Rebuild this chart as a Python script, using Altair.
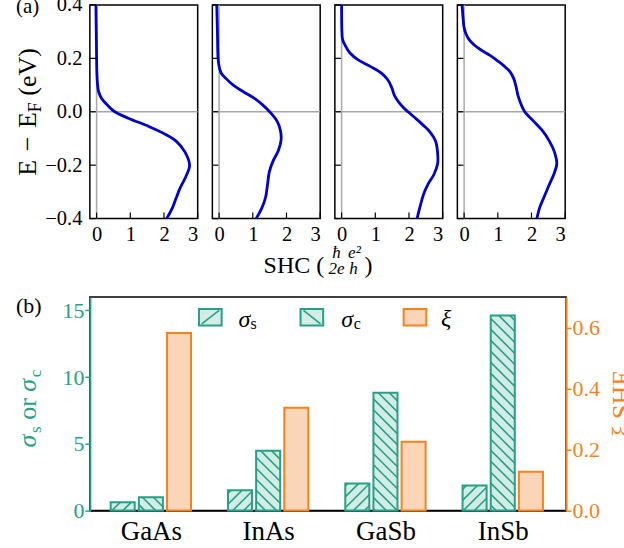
import altair as alt
import pandas as pd
import numpy as np

FONT = "Liberation Serif"
BLUE = "#0000cc"
GRAY = "#a8a8a8"
TEAL = "#26a086"
LTEAL = "#d3ede6"
ORANGE = "#f5821f"
LORANGE = "#fbd5b7"

MATERIALS = ["GaAs", "InAs", "GaSb", "InSb"]

# ---- panel (a): SHC (hbar/2e e^2/h) versus E - E_F (eV)
E_GAAS = [0.40, 0.30, 0.20, 0.14, 0.10, 0.075, 0.05, 0.025, 0.0, -0.025, -0.055, -0.085,
          -0.11, -0.15, -0.20, -0.245, -0.285, -0.32, -0.36, -0.40]
SHC_GAAS = [-0.02, -0.01, 0.0, 0.01, 0.03, 0.06, 0.15, 0.32, 0.54, 0.96, 1.55, 2.05,
            2.36, 2.62, 2.76, 2.64, 2.48, 2.37, 2.25, 2.08]

E_INAS = [0.40, 0.30, 0.20, 0.17, 0.145, 0.125, 0.10, 0.075, 0.05, 0.025, 0.0, -0.035,
          -0.07, -0.105, -0.145, -0.185, -0.225, -0.27, -0.32, -0.36, -0.40]
SHC_INAS = [-0.07, -0.05, -0.03, 0.0, 0.06, 0.2, 0.42, 0.72, 1.05, 1.3, 1.5, 1.72,
            1.82, 1.84, 1.76, 1.6, 1.49, 1.44, 1.38, 1.27, 1.1]

E_GASB = [0.40, 0.30, 0.27, 0.245, 0.22, 0.195, 0.17, 0.145, 0.12, 0.09, 0.06, 0.035,
          0.015, 0.0, -0.025, -0.05, -0.075, -0.11, -0.155, -0.195, -0.235, -0.27,
          -0.31, -0.35, -0.40]
SHC_GASB = [0.0, 0.01, 0.03, 0.12, 0.25, 0.48, 0.85, 1.18, 1.37, 1.49, 1.57, 1.7,
            1.84, 1.97, 2.2, 2.42, 2.62, 2.79, 2.85, 2.85, 2.74, 2.57, 2.43, 2.34, 2.24]

E_INSB = [0.40, 0.35, 0.315, 0.29, 0.27, 0.25, 0.23, 0.21, 0.19, 0.17, 0.15, 0.125,
          0.095, 0.06, 0.025, 0.0, -0.035, -0.07, -0.11, -0.15, -0.195, -0.235, -0.275,
          -0.32, -0.36, -0.40]
SHC_INSB = [-0.06, -0.03, 0.0, 0.06, 0.15, 0.3, 0.52, 0.78, 1.0, 1.2, 1.36, 1.47,
            1.54, 1.6, 1.7, 1.8, 2.06, 2.32, 2.53, 2.68, 2.75, 2.66, 2.52, 2.37, 2.24, 2.16]

X_TICKS_A = [0, 1, 2, 3]
Y_TICKS_A = [-0.4, -0.2, 0.0, 0.2, 0.4]

# ---- panel (b)
SIGMA_S = [0.62, 1.52, 2.04, 1.89]
SIGMA_C = [1.0, 4.49, 8.83, 14.62]
XI = [0.582, 0.337, 0.226, 0.127]
Y_TICKS_L = [0, 5, 10, 15]
Y_TICKS_R = [0.0, 0.2, 0.4, 0.6]

ONE = pd.DataFrame({"o": [0]})


def txt(s, x, y, size, color="black", style="normal", angle=0, align="left",
        baseline="alphabetic"):
    return alt.Chart(ONE).mark_text(
        text=s, fontSize=size, fontStyle=style, angle=angle, align=align,
        baseline=baseline, color=color, font=FONT
    ).encode(x=alt.value(x), y=alt.value(y))


# approximate advance widths (em) of Times-metric glyphs, for composing titles
ADV = {"E": 0.611, " ": 0.25, "\u2212": 0.564, "F": 0.556, "(": 0.333, ")": 0.333,
       "e": 0.444, "V": 0.722, "o": 0.5, "r": 0.333, "s": 0.389, "c": 0.444,
       "\u03c3": 0.56, "_": 0.33}


def width(s, size):
    return sum(ADV.get(ch, 0.5) for ch in s) * size


def rotated_title(pieces, xb, ybottom, color):
    """pieces: (text, size, style, shift) reading bottom-to-top; '_' is a math gap."""
    layers = []
    y = ybottom
    for s, size, style, shift in pieces:
        lead = len(s) - len(s.lstrip(" _"))
        y0 = y - width(s[:lead], size)
        body = s.strip(" _")
        if body:
            layers.append(txt(body, xb + shift, y0, size, color=color, style=style,
                              angle=270))
        y -= width(s, size)
    return layers


# ---------------- top row ----------------
PW, PH = 108, 214
xa = alt.Scale(domain=[-0.2, 3.0], nice=False, zero=False)
ya = alt.Scale(domain=[-0.4, 0.4], nice=False, zero=False)


def panel(i, E, S):
    df = pd.DataFrame({"E": E, "SHC": S, "k": list(range(len(E)))})
    zero = pd.DataFrame({"v": [0.0]})
    xt = pd.DataFrame({"t": X_TICKS_A})
    yt = pd.DataFrame({"t": Y_TICKS_A})
    xaxis = alt.Axis(values=X_TICKS_A, labelFontSize=20.5, labelPadding=6, ticks=False,
                     tickSize=0, domain=False, grid=False, title=None, labelFont=FONT)
    if i == 0:
        yaxis = alt.Axis(values=Y_TICKS_A, format=".1f", labelFontSize=20.5,
                         labelPadding=8, ticks=False, tickSize=0, domain=False,
                         grid=False, title=None, labelFont=FONT)
    else:
        yaxis = None
    hline = alt.Chart(zero).mark_rule(color=GRAY, strokeWidth=1.5).encode(
        y=alt.Y("v:Q", scale=ya, axis=yaxis))
    vline = alt.Chart(zero).mark_rule(color=GRAY, strokeWidth=1.5).encode(
        x=alt.X("v:Q", scale=xa, axis=xaxis))
    line = alt.Chart(df).mark_line(color=BLUE, strokeWidth=2.8,
                                   interpolate="catmull-rom").encode(
        x=alt.X("SHC:Q", scale=xa, axis=xaxis),
        y=alt.Y("E:Q", scale=ya, axis=yaxis),
        order="k:Q")
    xtick = alt.Chart(xt).mark_rule(color="black", strokeWidth=1.2).encode(
        x=alt.X("t:Q", scale=xa, axis=xaxis), y=alt.value(PH), y2=alt.value(PH - 6))
    ytick = alt.Chart(yt).mark_rule(color="black", strokeWidth=1.2).encode(
        y=alt.Y("t:Q", scale=ya, axis=yaxis), x=alt.value(0), x2=alt.value(6))
    layers = [hline, vline, line, xtick, ytick]
    if i == 0:
        layers.append(txt("(a)", -74, 8.5, 21))
        layers += rotated_title(
            [("E", 26, "normal", 0), ("_\u2212_", 26, "normal", 0),
             ("E", 26, "normal", 0), ("F", 18, "normal", 5),
             (" (eV)", 26, "normal", 0)], -54, 171, "black")
        # SHC (hbar/2e  e^2/h)
        layers.append(txt("SHC (", 174, 269, 24))
        layers.append(txt("\u0127", 247, 253.5, 17, style="italic", align="center"))
        layers.append(txt("2e", 247, 269.5, 17, style="italic", align="center"))
        layers.append(txt("e\u00b2", 265, 253.5, 17, style="italic", align="center"))
        layers.append(txt("h", 264, 269.5, 17, style="italic", align="center"))
        layers.append(txt(")", 275, 269, 24))
    return alt.layer(*layers).properties(width=PW, height=PH)


top = alt.hconcat(
    panel(0, E_GAAS, SHC_GAAS), panel(1, E_INAS, SHC_INAS),
    panel(2, E_GASB, SHC_GASB), panel(3, E_INSB, SHC_INSB),
    spacing=14.7, bounds="flush")

# ---------------- bottom chart ----------------
BW, BH = 477, 214
XMIN, XMAX = -0.52, 3.54
xb = alt.Scale(domain=[XMIN, XMAX], nice=False, zero=False)
yl = alt.Scale(domain=[0, 16], nice=False, zero=False)
yr = alt.Scale(domain=[0, 0.7], nice=False, zero=False)
OFFSET = {"s": -0.24, "c": 0.0, "xi": 0.24}
HALF = 0.1025

rows = []
for i, m in enumerate(MATERIALS):
    for key, vals in (("s", SIGMA_S), ("c", SIGMA_C), ("xi", XI)):
        rows.append({"material": m, "series": key, "value": vals[i], "base": 0.0,
                     "xl": i + OFFSET[key] - HALF, "xr": i + OFFSET[key] + HALF})
bars = pd.DataFrame(rows)
sig = bars[bars.series != "xi"]
xi = bars[bars.series == "xi"]

# hatch lines (drawn in pixel space at 45 degrees, converted back to data units)
SX = BW / (XMAX - XMIN)
SY = BH / 16.0
D = 11.0
hrows = []
for _, r in sig.iterrows():
    pl, pr, pt = (r.xl - XMIN) * SX, (r.xr - XMIN) * SX, r.value * SY
    if r.series == "s":
        for k in range(int(np.floor(-pr / D)) - 1, int(np.ceil((pt - pl) / D)) + 2):
            c = k * D
            lo, hi = max(pl, -c), min(pr, pt - c)
            if hi - lo > 0.4:
                hrows.append((lo, lo + c, hi, hi + c))
    else:
        for k in range(int(np.floor(pl / D)) - 1, int(np.ceil((pr + pt) / D)) + 2):
            c = k * D
            lo, hi = max(pl, c - pt), min(pr, c)
            if hi - lo > 0.4:
                hrows.append((lo, c - lo, hi, c - hi))
hatch = pd.DataFrame([{"hx1": XMIN + a / SX, "hy1": b / SY, "hx2": XMIN + c / SX,
                       "hy2": d / SY} for a, b, c, d in hrows])

xaxis_b = alt.Axis(values=[0, 1, 2, 3], labelExpr=f"{MATERIALS}[datum.value]",
                   labelFontSize=27, labelPadding=8, ticks=False, tickSize=0,
                   domain=True, domainColor="black", domainWidth=1.5, grid=False,
                   title=None, labelFont=FONT, labelColor="black")
laxis = alt.Axis(orient="left", values=Y_TICKS_L, labelColor=TEAL, tickColor=TEAL,
                 domainColor=TEAL, domainWidth=2, tickWidth=1.5, tickSize=5,
                 labelPadding=1, labelFontSize=22, grid=False, title=None, labelFont=FONT)
raxis = alt.Axis(orient="right", values=Y_TICKS_R, format=".1f", labelColor=ORANGE,
                 tickColor=ORANGE, domainColor=ORANGE, domainWidth=2, tickWidth=1.5,
                 tickSize=5, labelPadding=1, labelFontSize=22, grid=False, title=None,
                 labelFont=FONT)

sig_rect = alt.Chart(sig).mark_rect(fill=LTEAL, stroke=TEAL, strokeWidth=2).encode(
    x=alt.X("xl:Q", scale=xb, axis=xaxis_b), x2="xr",
    y=alt.Y("value:Q", scale=yl, axis=laxis), y2="base")
hatch_rule = alt.Chart(hatch).mark_rule(color=TEAL, strokeWidth=1.6).encode(
    x=alt.X("hx1:Q", scale=xb, axis=xaxis_b), x2="hx2",
    y=alt.Y("hy1:Q", scale=yl, axis=laxis), y2="hy2")


def swatch(x1, x2, fill, stroke):
    return alt.Chart(ONE).mark_rect(fill=fill, stroke=stroke, strokeWidth=2).encode(
        x=alt.value(x1), x2=alt.value(x2), y=alt.value(12), y2=alt.value(28.7))


def seg(x1, y1, x2, y2):
    return alt.Chart(ONE).mark_rule(color=TEAL, strokeWidth=1.6).encode(
        x=alt.value(x1), x2=alt.value(x2), y=alt.value(y1), y2=alt.value(y2))


deco = [
    swatch(109.3, 132, LTEAL, TEAL), seg(112, 27, 129.5, 13.5),
    txt("\u03c3", 149, 29.7, 24, style="italic"), txt("s", 161, 32, 16),
    swatch(211, 233.7, LTEAL, TEAL), seg(214, 13.5, 231, 27),
    txt("\u03c3", 251.7, 29.7, 24, style="italic"), txt("c", 264.3, 32, 16),
    swatch(314.3, 337, LORANGE, ORANGE),
    txt("\u03be", 351.7, 28.7, 24, style="italic"),
    txt("(b)", -74, 15.7, 22),
]
deco += rotated_title(
    [("\u03c3", 26, "italic", 0), ("s", 17, "normal", 5), (" or ", 26, "normal", 0),
     ("\u03c3", 26, "italic", 0), ("c", 17, "normal", 5)], -54, 150.7, TEAL)

left = alt.layer(sig_rect, hatch_rule, *deco)

xi_rect = alt.Chart(xi).mark_rect(fill=LORANGE, stroke=ORANGE, strokeWidth=2).encode(
    x=alt.X("xl:Q", scale=xb, axis=xaxis_b), x2="xr",
    y=alt.Y("value:Q", scale=yr, axis=raxis), y2="base")
xi_title = txt("\u03be SHE", 541, 106.7, 26, color=ORANGE, angle=270, align="center")
right = alt.layer(xi_rect, xi_title)

bottom = alt.layer(left, right).resolve_scale(y="independent").properties(
    width=BW, height=BH)

chart = alt.vconcat(top, bottom, spacing=13.5).properties(
    padding={"left": 14, "top": -6.5, "right": -12, "bottom": 0}
).configure(font=FONT).configure_view(stroke="black", strokeWidth=1.5)

chart.save("out.html", embed_options={"renderer": "svg", "actions": False})
